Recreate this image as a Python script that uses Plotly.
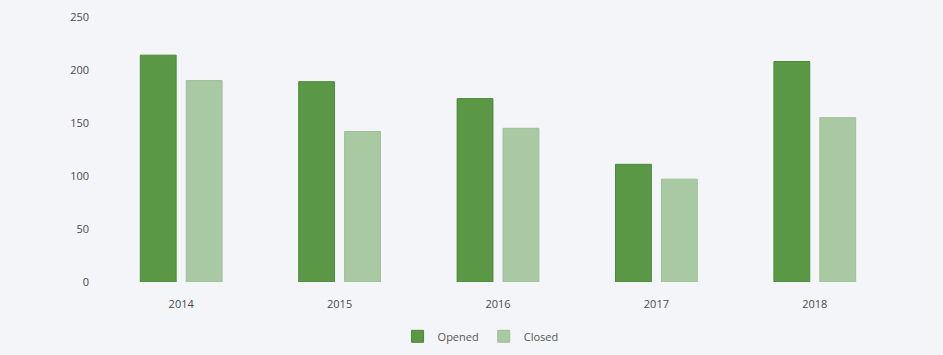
import plotly.graph_objects as go

years = ["2014", "2015", "2016", "2017", "2018"]
opened = [214, 189, 173, 111, 208]
closed = [190, 142, 145, 97, 155]
y_ticks = [0, 50, 100, 150, 200, 250]

fig = go.Figure()
fig.add_trace(go.Bar(name="Opened", x=years, y=opened, marker=dict(color="#5b9845", line=dict(color="#4a8a38", width=1))))
fig.add_trace(go.Bar(name="Closed", x=years, y=closed, marker=dict(color="#a9c9a3", line=dict(color="#9dbf97", width=1))))

fig.update_layout(
    width=943, height=355,
    margin=dict(l=102, r=49, t=17, b=73, autoexpand=False),
    paper_bgcolor="#f3f5f9", plot_bgcolor="#f3f5f9",
    barmode="group", bargap=0.42, bargroupgap=0.22,
    font=dict(family="Open Sans, sans-serif", size=11, color="#4a4a4a"),
    showlegend=True,
    legend=dict(orientation="h", x=0.478, xanchor="center", y=-0.205, yanchor="middle",
                font=dict(size=11, color="#555555"), itemwidth=30,
                bgcolor="rgba(0,0,0,0)"),
)
fig.update_xaxes(showgrid=False, showline=False, ticks="", tickfont=dict(size=11),
                 automargin=False, ticklabelstandoff=14)
fig.update_yaxes(range=[0, 250], tickvals=y_ticks, showgrid=False, zeroline=False,
                 showline=False, ticks="", ticklabelstandoff=12, tickfont=dict(size=11),
                 automargin=False)

fig.write_html("out.html", config={"displayModeBar": False},
               post_script="document.body.style.margin='0';document.body.style.background='#f3f5f9';document.body.style.overflow='hidden';")
